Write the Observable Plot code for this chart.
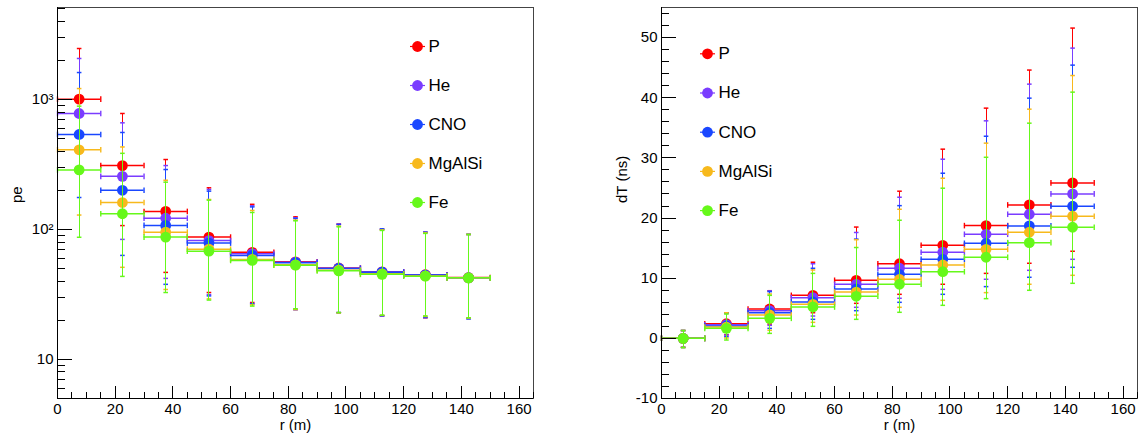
<!DOCTYPE html>
<html>
<head>
<meta charset="utf-8">
<script src="https://cdn.jsdelivr.net/npm/d3@7"></script>
<script src="https://cdn.jsdelivr.net/npm/@observablehq/plot@0.6"></script>
<style>
  html, body { margin: 0; padding: 0; background: #fff; }
  #wrap { display: flex; width: 1141px; height: 434px; }
  svg { font-family: "Liberation Sans", Arial, sans-serif; }
</style>
</head>
<body>
<div id="wrap"></div>
<script>
// ---------- data ----------
const r = [7.5, 22.5, 37.5, 52.5, 67.5, 82.5, 97.5, 112.5, 127.5, 142.5];
const rHalfBin = 7.5;
const species = ["P", "He", "CNO", "MgAlSi", "Fe"];
const colors = ["#ff0000", "#7a3cff", "#1a47ff", "#f7b91c", "#66f81a"];

// pe (left panel): values, lower ends, upper ends of error bars
const peP      = [1005, 310, 137.5, 87.3, 66.6, 56.3, 50.5, 47.2, 44.8, 42.6];
const peP_lo   = [410, 107, 46.7, 32.7, 27.4, 24.2, 22.9, 21.7, 20.9, 20.7];
const peP_hi   = [2466, 780, 345, 209, 156, 125, 110, 100, 95, 91.5];
const peHe     = [780, 256, 122, 82, 65.1, 56, 50.3, 47, 44.6, 42.5];
const peHe_lo  = [290, 83.8, 42, 31.5, 26.9, 24.2, 22.9, 21.5, 21, 20.6];
const peHe_hi  = [2067, 661, 310, 203, 152, 123, 110, 100, 95, 91.5];
const peCNO    = [538, 200, 107.4, 78.5, 63.1, 55.5, 50.1, 46.9, 44.5, 42.4];
const peCNO_lo = [176, 63.1, 37.8, 30.8, 26.7, 24.2, 22.9, 21.7, 21, 20.5];
const peCNO_hi = [1611, 557, 289, 197, 149, 121.5, 109, 101, 95.3, 91.5];
const peMg     = [410, 161, 95.3, 70.5, 58.8, 53.4, 48.6, 45.5, 43.9, 42.4];
const peMg_lo  = [129, 51.1, 34.5, 29.2, 26.3, 24.2, 22.8, 21.8, 21.4, 20.8];
const peMg_hi  = [1213, 431, 239, 170, 140, 118, 106, 99, 94, 91.5];
const peFe     = [287, 132, 87.3, 68, 57.7, 53.1, 48, 45.1, 43.7, 42.4];
const peFe_lo  = [87, 43.5, 32.7, 28.6, 25.7, 24.5, 22.9, 21.9, 21.6, 20.9];
const peFe_hi  = [888, 385, 231, 168, 135, 116.5, 104.7, 98.2, 93.2, 91.5];

// dT (right panel)
const dtP      = [0, 2.43, 4.88, 7.15, 9.65, 12.41, 15.47, 18.74, 22.18, 25.84];
const dtP_lo   = [-1.5, 0.6, 2.38, 4.26, 5.82, 7.32, 8.99, 10.8, 12.48, 14.48];
const dtP_hi   = [1.3, 4.26, 7.92, 12.65, 18.5, 24.46, 31.45, 38.27, 44.6, 51.58];
const dtHe     = [0, 2.26, 4.6, 6.76, 8.98, 11.65, 14.31, 17.3, 20.63, 24.01];
const dtHe_lo  = [-1.5, 0.55, 2.16, 3.71, 5.16, 6.66, 8.15, 9.82, 11.31, 13.14];
const dtHe_hi  = [1.3, 4.26, 7.9, 12.4, 17.6, 23.46, 29.78, 36.16, 42.26, 48.25];
const dtCNO    = [0, 2.05, 4.26, 6.04, 8.2, 10.65, 13.14, 15.8, 18.69, 21.96];
const dtCNO_lo = [-1.5, 0.27, 1.66, 3.16, 4.6, 5.99, 7.32, 8.6, 10.15, 11.81];
const dtCNO_hi = [1.3, 4.26, 7.76, 11.65, 16.5, 22.06, 27.45, 33.6, 39.93, 45.42];
const dtMg     = [0, 1.88, 3.88, 5.66, 7.7, 9.82, 12.2, 14.8, 17.64, 20.3];
const dtMg_lo  = [-1.5, 0.05, 1.33, 2.66, 3.88, 5.16, 6.32, 7.6, 8.99, 10.48];
const dtMg_hi  = [1.3, 4.26, 7.37, 11.36, 16.4, 21.46, 26.62, 32.45, 38.1, 43.69];
const dtFe     = [0, 1.66, 3.33, 5.21, 6.99, 8.99, 11.08, 13.48, 15.91, 18.47];
const dtFe_lo  = [-1.55, -0.28, 0.83, 2.0, 3.16, 4.33, 5.49, 6.6, 7.99, 9.15];
const dtFe_hi  = [1.3, 4.04, 7.15, 10.8, 15.1, 19.63, 24.96, 30.1, 35.77, 40.93];

// axes ticks
const xMajor = [0, 20, 40, 60, 80, 100, 120, 140, 160];
const xMinor = d3.range(0, 166, 5);
const peMajor = [10, 100, 1000];
const peMajorLabels = ["10", "10\u00B2", "10\u00B3"];
const peMinor = [6, 7, 8, 9, 20, 30, 40, 50, 60, 70, 80, 90, 200, 300, 400, 500, 600, 700, 800, 900, 2000, 3000, 4000, 5000];
const dtMajor = [-10, 0, 10, 20, 30, 40, 50];
const dtMinor = d3.range(-10, 55, 2);

// ---------- build ----------
function table(v, lo, hi) {
  return r.map((x, i) => ({r: x, v: v[i], lo: lo[i], hi: hi[i]}));
}
const peSeries = [
  table(peP, peP_lo, peP_hi), table(peHe, peHe_lo, peHe_hi), table(peCNO, peCNO_lo, peCNO_hi),
  table(peMg, peMg_lo, peMg_hi), table(peFe, peFe_lo, peFe_hi)
];
const dtSeries = [
  table(dtP, dtP_lo, dtP_hi), table(dtHe, dtHe_lo, dtHe_hi), table(dtCNO, dtCNO_lo, dtCNO_hi),
  table(dtMg, dtMg_lo, dtMg_hi), table(dtFe, dtFe_lo, dtFe_hi)
];

const hcap = {draw(ctx, size) { const a = Math.sqrt(size / Math.PI); ctx.moveTo(-a, 0); ctx.lineTo(a, 0); }};
const vcap = {draw(ctx, size) { const a = Math.sqrt(size / Math.PI); ctx.moveTo(0, -a); ctx.lineTo(0, a); }};
const crisp = {shapeRendering: "crispEdges"};

function panel(cfg) {
  const H = 434, mt = 7, mb = 36;
  const fw = cfg.width - cfg.ml - cfg.mr, fh = H - mt - mb;
  const marks = [];
  // series (drawn one after another, later ones on top)
  cfg.series.forEach((data, i) => {
    const c = colors[i];
    marks.push(
      Plot.ruleY(data, {y: "v", x1: d => d.r - rHalfBin, x2: d => d.r + rHalfBin, stroke: c, strokeWidth: 1.5}),
      Plot.dot(data, {x: d => d.r - rHalfBin, y: "v", symbol: vcap, r: 2.8, fill: "none", stroke: c, strokeWidth: 1.4}),
      Plot.dot(data, {x: d => d.r + rHalfBin, y: "v", symbol: vcap, r: 2.8, fill: "none", stroke: c, strokeWidth: 1.4}),
      Plot.ruleX(data, {x: "r", y1: "lo", y2: "hi", stroke: c, strokeWidth: 1, ...crisp}),
      Plot.dot(data, {x: "r", y: "lo", symbol: hcap, r: 2.3, fill: "none", stroke: c, strokeWidth: 1.5}),
      Plot.dot(data, {x: "r", y: "hi", symbol: hcap, r: 2.3, fill: "none", stroke: c, strokeWidth: 1.5}),
      Plot.dot(data, {x: "r", y: "v", r: 5.4, fill: c, stroke: null})
    );
  });
  // legend
  species.forEach((s, i) => {
    const dy = cfg.legDy + i * cfg.legStep;
    marks.push(
      Plot.dot([s], {frameAnchor: "top-left", dx: cfg.legDx, dy, symbol: hcap, r: 7.5, fill: "none", stroke: colors[i], strokeWidth: 1.2}),
      Plot.dot([s], {frameAnchor: "top-left", dx: cfg.legDx, dy, r: 5.4, fill: colors[i]}),
      Plot.text([s], {frameAnchor: "top-left", dx: cfg.legDx + 11, dy, text: d => d, textAnchor: "start", lineAnchor: "middle", fontSize: 17, fill: "black"})
    );
  });
  // frame & axes
  marks.push(
    Plot.frame({stroke: "#444", strokeWidth: 1, ...crisp}),
    Plot.ruleX([0], {stroke: "black", ...crisp}),
    Plot.ruleY([cfg.yDomain[0]], {stroke: "black", ...crisp}),
    Plot.tickX(xMinor, {x: d => d, insetTop: fh - 6, stroke: "black", ...crisp}),
    Plot.tickX(xMajor, {x: d => d, insetTop: fh - 12, stroke: "black", ...crisp}),
    Plot.text(xMajor, {x: d => d, frameAnchor: "bottom", lineAnchor: "top", dy: 5, text: d => String(d), fontSize: 15, fill: "black"}),
    Plot.tickY(cfg.yMinor, {y: d => d, insetRight: fw - 8, stroke: "black", ...crisp}),
    Plot.tickY(cfg.yMajor, {y: d => d, insetRight: fw - 15, stroke: "black", ...crisp}),
    Plot.text(cfg.yMajor, {y: d => d, frameAnchor: "left", textAnchor: "end", lineAnchor: "middle", dx: -4, text: (d, i) => cfg.yLabels[i], fontSize: 15, fill: "black"}),
    Plot.text(["r (m)"], {frameAnchor: "bottom", lineAnchor: "middle", dy: 27, text: d => d, fontSize: 15, fill: "black"}),
    Plot.text([cfg.yTitle], {frameAnchor: "left", lineAnchor: "middle", dx: cfg.titleDx, rotate: -90, text: d => d, fontSize: 15, fill: "black"})
  );
  return Plot.plot({
    width: cfg.width, height: H,
    marginLeft: cfg.ml, marginRight: cfg.mr, marginTop: mt, marginBottom: mb,
    style: {fontFamily: '"Liberation Sans", Arial, sans-serif', background: "white", overflow: "visible"},
    x: {domain: [0, 165], axis: null},
    y: {type: cfg.yType, domain: cfg.yDomain, axis: null},
    marks
  });
}

const wrap = document.getElementById("wrap");
wrap.append(panel({
  width: 570, ml: 57, mr: 37, yType: "log", yDomain: [5, 5100],
  series: peSeries, yMajor: peMajor, yMinor: peMinor, yLabels: peMajorLabels,
  yTitle: "pe", titleDx: -40, legDx: 360, legDy: 39, legStep: 39
}));
wrap.append(panel({
  width: 571, ml: 91, mr: 4, yType: "linear", yDomain: [-10, 55],
  series: dtSeries, yMajor: dtMajor, yMinor: dtMinor, yLabels: dtMajor.map(String),
  yTitle: "dT (ns)", titleDx: -39, legDx: 46, legDy: 46.3, legStep: 39.2
}));
</script>
</body>
</html>
